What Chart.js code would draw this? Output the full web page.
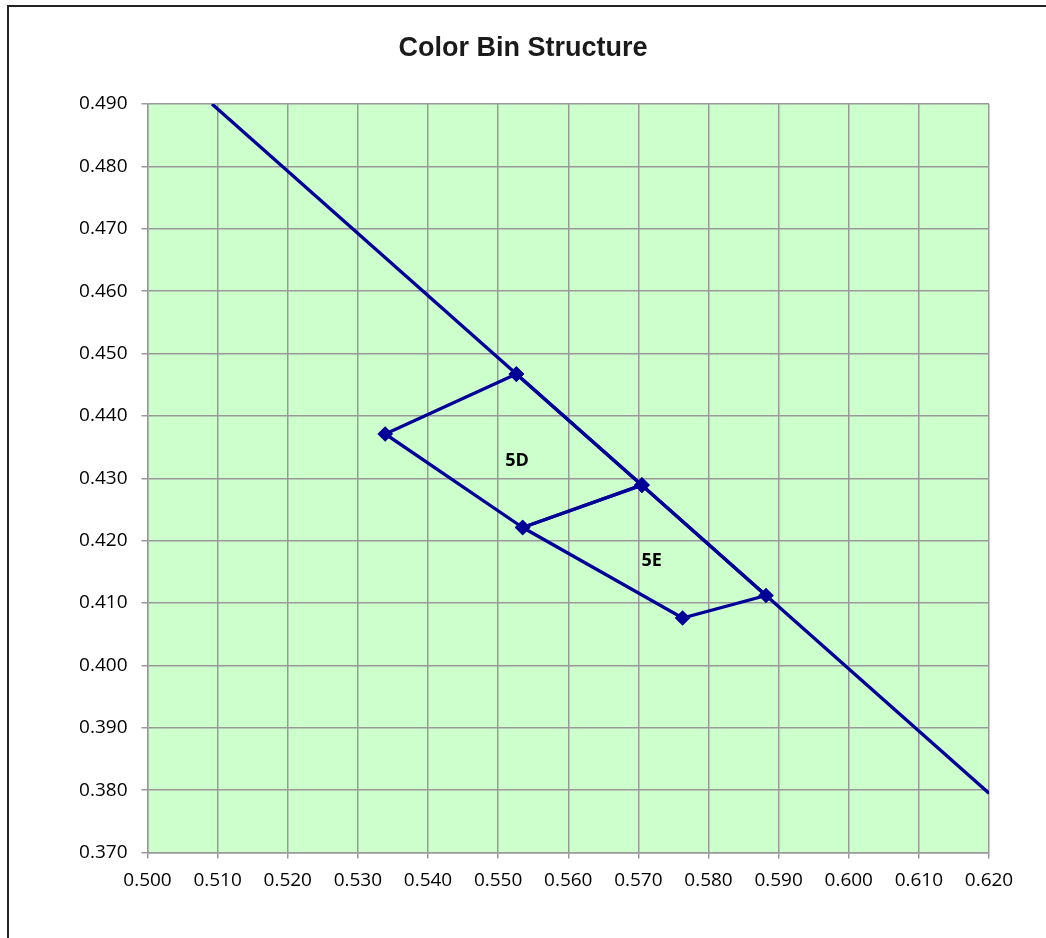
<!DOCTYPE html>
<html>
<head>
<meta charset="utf-8">
<title>Color Bin Structure</title>
<script src="https://cdn.jsdelivr.net/npm/chart.js@4.4.1/dist/chart.umd.min.js"></script>
<style>
  html, body { margin: 0; padding: 0; background: #fff; overflow: hidden; }
  #frame { position: absolute; left: 7px; top: 5px; width: 1100px; height: 1000px; border: 2px solid #222; }
  #wrap { position: absolute; left: 0; top: 0; width: 1046px; height: 938px; }
</style>
</head>
<body>
<div id="frame"></div>
<div id="wrap"><canvas id="bins"></canvas></div>
<script>
// chart values
const titleText = 'Color Bin Structure';

const lineX = [0.5092, 0.620];
const lineY = [0.490, 0.3795];

const bin5dX = [0.5526, 0.5339, 0.5535, 0.5705, 0.5526];
const bin5dY = [0.4467, 0.4371, 0.4221, 0.4289, 0.4467];

const bin5eX = [0.5705, 0.5535, 0.5763, 0.5882, 0.5705];
const bin5eY = [0.4289, 0.4221, 0.4076, 0.4112, 0.4289];

const binNames = ['5D', '5E'];
const binLabelX = [0.5527, 0.5719];
const binLabelY = [0.4328, 0.4167];

const xTicks = [0.500, 0.510, 0.520, 0.530, 0.540, 0.550, 0.560, 0.570, 0.580, 0.590, 0.600, 0.610, 0.620];
const yTicks = [0.370, 0.380, 0.390, 0.400, 0.410, 0.420, 0.430, 0.440, 0.450, 0.460, 0.470, 0.480, 0.490];

const navy = '#000099';
const gridGray = '#999999';

function toPoints(xs, ys) {
  return xs.map((x, i) => ({ x: x, y: ys[i] }));
}

// green plot area, title and bin names
const decor = {
  id: 'decor',
  beforeDraw(chart) {
    const { ctx, chartArea } = chart;
    ctx.save();
    ctx.fillStyle = '#ccffcc';
    ctx.fillRect(chartArea.left, chartArea.top, chartArea.right - chartArea.left, chartArea.bottom - chartArea.top);
    ctx.restore();
  },
  afterDraw(chart) {
    const { ctx } = chart;
    const xs = chart.scales.x;
    const ys = chart.scales.y;
    ctx.save();
    ctx.fillStyle = '#1a1a1a';
    ctx.font = 'bold 27px "Liberation Sans", Arial, sans-serif';
    ctx.textAlign = 'center';
    ctx.textBaseline = 'alphabetic';
    ctx.fillText(titleText, 523, 55.5);

    ctx.fillStyle = '#000';
    ctx.font = 'bold 18px "Open Sans", sans-serif';
    ctx.textBaseline = 'middle';
    binNames.forEach((name, i) => {
      ctx.fillText(name, xs.getPixelForValue(binLabelX[i]), ys.getPixelForValue(binLabelY[i]));
    });
    ctx.restore();
  }
};

const lineStyle = {
  showLine: true,
  borderColor: navy,
  backgroundColor: navy,
  borderWidth: 3.3,
  fill: false,
  tension: 0
};

new Chart(document.getElementById('bins').getContext('2d'), {
  type: 'scatter',
  data: {
    datasets: [
      Object.assign({ label: 'line', data: toPoints(lineX, lineY), pointRadius: 0 }, lineStyle),
      Object.assign({ label: '5D', data: toPoints(bin5dX, bin5dY), pointStyle: 'rectRot', pointRadius: 5.5 }, lineStyle),
      Object.assign({ label: '5E', data: toPoints(bin5eX, bin5eY), pointStyle: 'rectRot', pointRadius: 5.5 }, lineStyle)
    ]
  },
  options: {
    responsive: true,
    maintainAspectRatio: false,
    animation: false,
    events: [],
    layout: { padding: { top: 104, right: 57, bottom: 0, left: 0 } },
    plugins: {
      legend: { display: false },
      title: { display: false },
      tooltip: { enabled: false }
    },
    scales: {
      x: {
        type: 'linear',
        min: 0.500,
        max: 0.620,
        afterBuildTicks: (scale) => { scale.ticks = xTicks.map(v => ({ value: v })); },
        afterFit: (scale) => { scale.height = 85.5; },
        grid: { color: gridGray, lineWidth: 1.5, tickLength: 6 },
        border: { color: gridGray, width: 1.5 },
        ticks: {
          color: '#000',
          padding: 11,
          font: { family: '"Open Sans", sans-serif', size: 19 },
          callback: (v) => Number(v).toFixed(3)
        }
      },
      y: {
        type: 'linear',
        min: 0.370,
        max: 0.490,
        afterBuildTicks: (scale) => { scale.ticks = yTicks.map(v => ({ value: v })); },
        afterFit: (scale) => { scale.width = 147.5; },
        grid: { color: gridGray, lineWidth: 1.5, tickLength: 6 },
        border: { color: gridGray, width: 1.5 },
        ticks: {
          color: '#000',
          padding: 14,
          font: { family: '"Open Sans", sans-serif', size: 19 },
          callback: (v) => Number(v).toFixed(3)
        }
      }
    }
  },
  plugins: [decor]
});
</script>
</body>
</html>
